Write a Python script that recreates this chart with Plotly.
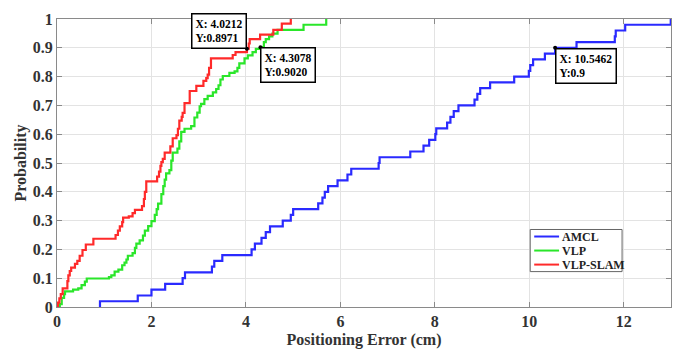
import plotly.graph_objects as go

# ---- data (step CDFs: x where the curve jumps, y after the jump) ----
amcl_x = [0.91, 0.91, 1.71, 2.00, 2.29, 2.66, 2.71, 3.28, 3.33, 3.50, 4.12, 4.19, 4.33,
          4.42, 4.51, 4.78, 4.95, 5.00, 5.53, 5.62, 5.67, 5.74, 5.94, 6.15, 6.23, 6.81,
          6.83, 7.48, 7.76, 7.88, 8.01, 8.03, 8.26, 8.33, 8.40, 8.50, 8.84, 8.90, 8.96,
          9.17, 9.68, 9.99, 10.02, 10.08, 10.33, 10.5462, 11.00, 11.81, 11.83, 12.03, 12.995]
amcl_y = [0.0, 0.02, 0.04, 0.06, 0.08, 0.10, 0.12, 0.14, 0.16, 0.18, 0.20, 0.22, 0.24,
          0.26, 0.28, 0.30, 0.32, 0.34, 0.36, 0.38, 0.40, 0.42, 0.44, 0.46, 0.48, 0.50,
          0.52, 0.54, 0.56, 0.58, 0.60, 0.62, 0.64, 0.66, 0.68, 0.70, 0.72, 0.74, 0.76,
          0.78, 0.80, 0.82, 0.84, 0.86, 0.88, 0.90, 0.92, 0.94, 0.96, 0.98, 1.00]

vlp_x = [0.05, 0.06, 0.10, 0.15, 0.17, 0.34, 0.45, 0.52, 0.59, 0.63, 1.10, 1.15, 1.22,
         1.30, 1.38, 1.43, 1.47, 1.50, 1.60, 1.65, 1.68, 1.75, 1.82, 1.86, 1.93, 2.00,
         2.07, 2.11, 2.14, 2.21, 2.25, 2.28, 2.31, 2.38, 2.42, 2.45, 2.55, 2.59, 2.63,
         2.70, 2.84, 2.91, 2.97, 3.02, 3.05, 3.12, 3.19, 3.30, 3.37, 3.42, 3.46, 3.51,
         3.65, 3.76, 3.82, 3.86, 3.97, 4.04, 4.14, 4.21, 4.3078, 4.38, 4.42, 4.49, 4.56,
         4.67, 5.22, 5.70]
vlp_y = [0.0, 0.01, 0.032, 0.045, 0.054, 0.06, 0.065, 0.076, 0.088, 0.099, 0.104, 0.11,
         0.123, 0.13, 0.145, 0.154, 0.165, 0.178, 0.187, 0.205, 0.22, 0.231, 0.248, 0.265,
         0.281, 0.298, 0.32, 0.34, 0.359, 0.392, 0.42, 0.442, 0.464, 0.475, 0.508, 0.536,
         0.55, 0.575, 0.608, 0.619, 0.628, 0.658, 0.675, 0.697, 0.705, 0.722, 0.733,
         0.745, 0.757, 0.77, 0.79, 0.802, 0.813, 0.818, 0.83, 0.846, 0.863, 0.874, 0.885,
         0.896, 0.902, 0.92, 0.93, 0.94, 0.949, 0.962, 0.98, 1.0]

slam_x = [0.0, 0.02, 0.05, 0.08, 0.12, 0.22, 0.24, 0.27, 0.30, 0.38, 0.43, 0.48, 0.54,
          0.61, 0.77, 1.24, 1.29, 1.33, 1.38, 1.40, 1.52, 1.60, 1.65, 1.80, 1.84, 1.86,
          1.89, 2.12, 2.16, 2.19, 2.21, 2.24, 2.28, 2.40, 2.45, 2.53, 2.56, 2.59, 2.64,
          2.66, 2.70, 2.81, 2.95, 3.10, 3.16, 3.19, 3.22, 3.26, 3.72, 3.78, 4.0212, 4.06,
          4.08, 4.30, 4.58, 4.76, 4.95]
slam_y = [0.0, 0.015, 0.03, 0.045, 0.065, 0.09, 0.11, 0.125, 0.137, 0.15, 0.16, 0.178,
          0.198, 0.217, 0.237, 0.25, 0.265, 0.28, 0.295, 0.31, 0.315, 0.326, 0.337, 0.35,
          0.375, 0.40, 0.436, 0.453, 0.47, 0.49, 0.503, 0.514, 0.536, 0.558, 0.586, 0.597,
          0.619, 0.647, 0.66, 0.674, 0.708, 0.75, 0.768, 0.785, 0.795, 0.807, 0.83, 0.863,
          0.875, 0.885, 0.8971, 0.915, 0.93, 0.946, 0.962, 0.984, 1.0]

series_names = ["AMCL", "VLP", "VLP-SLAM"]
series_colors = ["#2a2aff", "#2ae62a", "#ff2a2a"]

x_ticks = [0, 2, 4, 6, 8, 10, 12]
y_ticks = [0, 0.1, 0.2, 0.3, 0.4, 0.5, 0.6, 0.7, 0.8, 0.9, 1]
y_tick_text = ["0", "0.1", "0.2", "0.3", "0.4", "0.5", "0.6", "0.7", "0.8", "0.9", "1"]

tips = [(4.0212, 0.8971, "X: 4.0212<br>Y:0.8971", "right", "bottom"),
        (4.3078, 0.9020, "X: 4.3078<br>Y:0.9020", "left", "top"),
        (10.5462, 0.9, "X: 10.5462<br>Y:0.9", "left", "top")]

FONT = "Liberation Serif"

def bfont(size, color="#333333"):
    return dict(family=FONT, size=size, color=color, weight="bold")

fig = go.Figure()
for xs, ys, nm, col in zip([amcl_x, vlp_x, slam_x], [amcl_y, vlp_y, slam_y],
                           series_names, series_colors):
    fig.add_trace(go.Scatter(x=xs, y=ys, mode="lines", name=nm, showlegend=False,
                             line=dict(color=col, width=2.2, shape="hv")))

# datatip markers
fig.add_trace(go.Scatter(x=[t[0] for t in tips], y=[t[1] for t in tips], mode="markers",
                         marker=dict(color="black", size=4), showlegend=False,
                         hoverinfo="skip"))

for tx, ty, txt, xa, ya in tips:
    fig.add_annotation(x=tx, y=ty, xref="x", yref="y", text=txt,
                       showarrow=False, xanchor=xa, yanchor=ya, align="left",
                       font=bfont(11.5, "black"),
                       bgcolor="white", bordercolor="black", borderwidth=1.5,
                       borderpad=3)

# compact MATLAB-style legend box (paper coords = plot area)
lg_x0, lg_x1, lg_y0, lg_y1 = 0.7707, 0.9203, 0.1229, 0.2691
fig.add_shape(type="rect", xref="paper", yref="paper", x0=lg_x0, x1=lg_x1,
              y0=lg_y0, y1=lg_y1, fillcolor="white",
              line=dict(color="#666666", width=1), layer="above")
row_h = (lg_y1 - lg_y0) / 3.0
for i, (nm, col) in enumerate(zip(series_names, series_colors)):
    yc = lg_y1 - row_h * (i + 0.5)
    fig.add_shape(type="line", xref="paper", yref="paper", x0=lg_x0 + 0.0065,
                  x1=lg_x0 + 0.047, y0=yc, y1=yc, line=dict(color=col, width=2),
                  layer="above")
    fig.add_annotation(x=lg_x0 + 0.049, y=yc, xref="paper", yref="paper", text=nm,
                       showarrow=False, xanchor="left", yanchor="middle",
                       font=bfont(12, "#222222"))

axis_common = dict(showgrid=True, gridcolor="#e3e3e3", gridwidth=1, zeroline=False,
                   showline=True, linecolor="#8a8a8a", linewidth=1.2, mirror="ticks",
                   ticks="inside", ticklen=5, tickcolor="#8a8a8a",
                   tickfont=bfont(16))

fig.update_layout(
    width=683, height=356,
    margin=dict(l=57, r=11, t=12, b=43),
    paper_bgcolor="white", plot_bgcolor="white",
    font=dict(family=FONT),
    showlegend=False,
    xaxis=dict(range=[0, 13], tickvals=x_ticks, ticktext=[str(v) for v in x_ticks],
               title=dict(text="Positioning Error (cm)", standoff=4, font=bfont(16)),
               **axis_common),
    yaxis=dict(range=[0, 1], tickvals=y_ticks, ticktext=y_tick_text,
               title=dict(text="Probability", standoff=2, font=bfont(16)),
               **axis_common),
)

fig.write_html("out.html")
